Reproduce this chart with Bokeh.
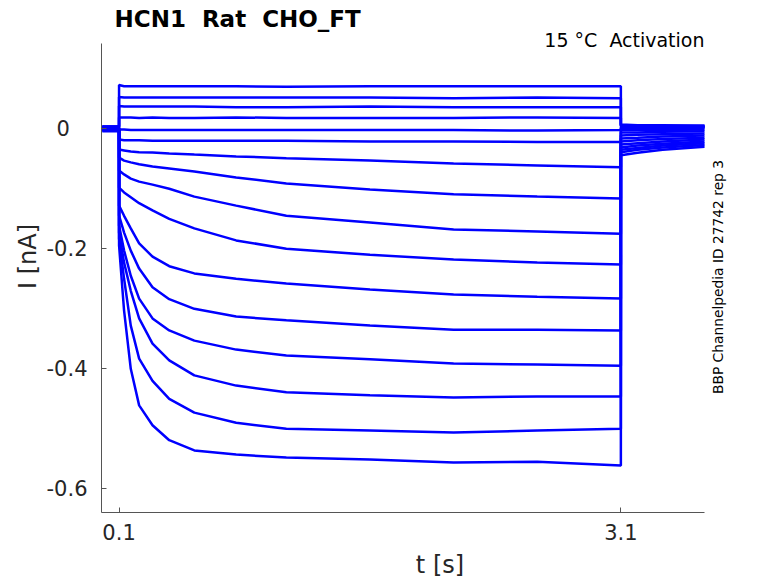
from bokeh.plotting import figure
from bokeh.models import Label, FixedTicker, Range1d
from bokeh.embed import file_html
from bokeh.resources import INLINE

# time points of the sweeps [s]: holding, step (0.1 - 3.1 s), tail
time_s = [0.0, 0.0999, 0.1, 0.13, 0.17, 0.22, 0.3, 0.4, 0.55, 0.8, 1.1,
          1.6, 2.1, 2.6, 3.1, 3.1001, 3.2, 3.35, 3.6]

# current of each sweep [nA]
sweep01 = [0.004, 0.004, 0.073, 0.071, 0.071, 0.071, 0.071, 0.071, 0.071, 0.071,
           0.070, 0.071, 0.071, 0.071, 0.071, 0.007, 0.006, 0.006, 0.005]
sweep02 = [0.003, 0.003, 0.053, 0.052, 0.052, 0.052, 0.052, 0.052, 0.052, 0.052,
           0.052, 0.052, 0.051, 0.052, 0.051, 0.006, 0.005, 0.005, 0.005]
sweep03 = [0.004, 0.004, 0.038, 0.037, 0.037, 0.037, 0.037, 0.037, 0.037, 0.036,
           0.036, 0.037, 0.036, 0.036, 0.036, 0.005, 0.005, 0.004, 0.004]
sweep04 = [0.002, 0.002, 0.019, 0.019, 0.019, 0.018, 0.019, 0.018, 0.018, 0.019,
           0.018, 0.018, 0.018, 0.019, 0.018, 0.004, 0.004, 0.004, 0.003]
sweep05 = [0.003, 0.003, -0.001, -0.001, -0.002, -0.002, -0.002, -0.002, -0.002, -0.002,
           -0.002, -0.002, -0.002, -0.003, -0.002, 0.003, 0.003, 0.003, 0.003]
sweep06 = [0.001, 0.001, -0.018, -0.019, -0.019, -0.019, -0.020, -0.020, -0.020, -0.020,
           -0.020, -0.021, -0.021, -0.022, -0.022, 0.001, 0.001, 0.001, 0.001]
sweep07 = [0.002, 0.002, -0.0345, -0.036, -0.038, -0.039, -0.0395, -0.041, -0.043, -0.046,
           -0.049, -0.053, -0.058, -0.061, -0.064, -0.002, -0.002, -0.002, -0.001]
sweep08 = [0.0, 0.0, -0.048, -0.053, -0.056, -0.059, -0.063, -0.066, -0.071, -0.081,
           -0.091, -0.101, -0.109, -0.113, -0.116, -0.006, -0.006, -0.005, -0.004]
sweep09 = [0.001, 0.001, -0.0695, -0.076, -0.083, -0.088, -0.093, -0.100, -0.113, -0.128,
           -0.145, -0.156, -0.168, -0.171, -0.175, -0.011, -0.010, -0.009, -0.008]
sweep10 = [-0.001, -0.001, -0.098, -0.106, -0.114, -0.124, -0.136, -0.150, -0.166, -0.186,
           -0.200, -0.210, -0.218, -0.223, -0.226, -0.016, -0.015, -0.013, -0.011]
sweep11 = [0.0, 0.0, -0.128, -0.145, -0.166, -0.191, -0.213, -0.229, -0.241, -0.250,
           -0.258, -0.268, -0.276, -0.280, -0.283, -0.021, -0.019, -0.017, -0.015]
sweep12 = [-0.002, -0.002, -0.1445, -0.173, -0.203, -0.233, -0.264, -0.284, -0.300, -0.313,
           -0.319, -0.328, -0.335, -0.335, -0.336, -0.026, -0.024, -0.021, -0.018]
sweep13 = [-0.001, -0.001, -0.161, -0.203, -0.245, -0.283, -0.316, -0.336, -0.353, -0.368,
           -0.378, -0.384, -0.391, -0.393, -0.395, -0.031, -0.028, -0.025, -0.021]
sweep14 = [-0.003, -0.003, -0.173, -0.223, -0.270, -0.316, -0.358, -0.386, -0.411, -0.428,
           -0.439, -0.444, -0.448, -0.446, -0.446, -0.035, -0.032, -0.028, -0.024]
sweep15 = [-0.002, -0.002, -0.183, -0.250, -0.328, -0.383, -0.420, -0.450, -0.473, -0.490,
           -0.500, -0.503, -0.506, -0.503, -0.500, -0.039, -0.035, -0.031, -0.027]
sweep16 = [-0.004, -0.004, -0.1945, -0.303, -0.400, -0.461, -0.494, -0.519, -0.536, -0.543,
           -0.548, -0.551, -0.556, -0.555, -0.561, -0.044, -0.040, -0.035, -0.030]

sweeps = [sweep01, sweep02, sweep03, sweep04, sweep05, sweep06, sweep07, sweep08,
          sweep09, sweep10, sweep11, sweep12, sweep13, sweep14, sweep15, sweep16]

# axes limits (what the axis lines span) and ticks
x_lim = (-0.005, 3.6)
y_lim = (-0.6395, 0.1417)
x_ticks = [0.1, 3.1]
y_ticks = [-0.6, -0.4, -0.2, 0]
y_tick_labels = {0: "0\u2007\u2009", -0.2: "-0.2", -0.4: "-0.4", -0.6: "-0.6"}

title_text = "HCN1\u00a0 Rat\u00a0 CHO_FT"
corner_text = "15 \u00b0C\u00a0 Activation"
side_text = "BBP Channelpedia ID 27742 rep 3"

FONT = "DejaVu Sans"
TEXT_COLOR = "#262626"
AXIS_COLOR = "#555555"

W, H = 778, 583
LEFT, BOTTOM = 101, 71          # frame edges; frame runs to top/right canvas edge
px_per_s = 603 / (x_lim[1] - x_lim[0])
px_per_na = 600.0

# the frame is larger than the axes box so the texts above/right are not clipped
x_end = x_lim[0] + (W - LEFT) / px_per_s
y_end = y_lim[0] + (H - BOTTOM) / px_per_na

p = figure(
    width=W, height=H,
    x_range=Range1d(x_lim[0], x_end),
    y_range=Range1d(y_lim[0], y_end),
    output_backend="svg",
    toolbar_location=None,
    min_border_left=LEFT, min_border_right=0,
    min_border_top=0, min_border_bottom=BOTTOM,
)
p.outline_line_color = None
p.xgrid.grid_line_color = None
p.ygrid.grid_line_color = None

p.xaxis.ticker = FixedTicker(ticks=x_ticks)
p.yaxis.ticker = FixedTicker(ticks=y_ticks)
p.xaxis.bounds = x_lim
p.yaxis.bounds = y_lim
p.yaxis.major_label_overrides = y_tick_labels
for ax in (p.xaxis, p.yaxis):
    ax.axis_line_color = AXIS_COLOR
    ax.major_tick_line_color = AXIS_COLOR
    ax.major_tick_in = 5
    ax.major_tick_out = 0
    ax.minor_tick_line_color = None
    ax.major_label_text_font = FONT
    ax.major_label_text_font_size = "21px"
    ax.major_label_text_color = TEXT_COLOR
    ax.axis_label_text_font = FONT
    ax.axis_label_text_font_size = "24px"
    ax.axis_label_text_font_style = "normal"
    ax.axis_label_text_color = TEXT_COLOR
p.xaxis.major_label_standoff = 11
p.yaxis.major_label_standoff = 14
p.xaxis.axis_label = "t [s]"
p.yaxis.axis_label = "I [nA]"
p.xaxis.axis_label_standoff = 8
p.yaxis.axis_label_standoff = 2

for sweep in sweeps:
    p.line(time_s, sweep, line_color="#0000ff", line_width=2.5)

# texts, in pixels from the frame's lower left corner
p.add_layout(Label(x=13, y=494, x_units="screen", y_units="screen", text=title_text,
                   text_font=FONT, text_font_size="23px", text_font_style="bold",
                   text_color="black", text_baseline="alphabetic"))
p.add_layout(Label(x=603, y=473, x_units="screen", y_units="screen", text=corner_text,
                   text_font=FONT, text_font_size="19px", text_color="black",
                   text_align="right", text_baseline="alphabetic"))
p.add_layout(Label(x=616.5, y=235.5, x_units="screen", y_units="screen", text=side_text,
                   text_font=FONT, text_font_size="13.8px", text_color="black",
                   angle=1.5708, text_align="center", text_baseline="middle"))

open("out.html", "w").write(file_html(p, INLINE))
